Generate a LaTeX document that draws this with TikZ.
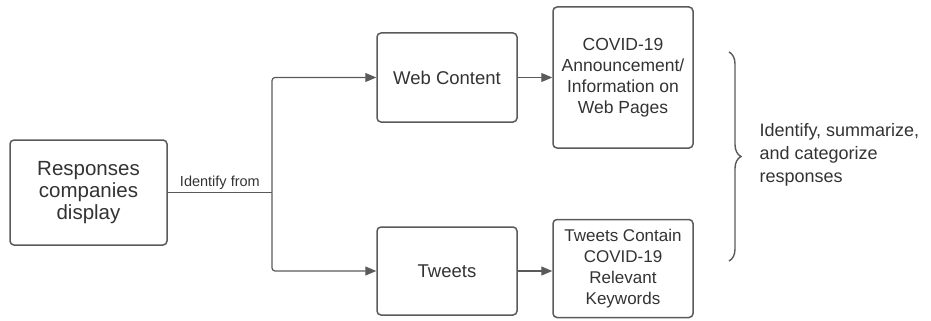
\documentclass[tikz,border=0pt]{standalone}
\usepackage{fontspec}
\setmainfont{Liberation Sans}
\usetikzlibrary{arrows.meta,decorations.pathreplacing}
\definecolor{edge}{HTML}{5A5A5A}
\definecolor{ink}{HTML}{333333}
\tikzset{
  box/.style={draw=edge, line width=1.5pt, rounded corners=4pt, fill=white,
    text=ink, align=center, inner sep=2pt},
  link/.style={draw=edge, line width=1.2pt, -{Triangle[length=11pt,width=9pt]}},
}
\begin{document}
\begin{tikzpicture}[x=1pt,y=-1pt]
  \useasboundingbox (0,0) rectangle (931,321);
  % boxes
  \node[box, minimum width=157pt, minimum height=105pt, font=\fontsize{20.5}{22}\selectfont]
    (resp) at (88.5,192.5) {Responses\\companies\\display};
  \node[box, minimum width=140pt, minimum height=89pt, font=\fontsize{18.5}{21}\selectfont]
    (web) at (447,77.5) {Web Content};
  \node[box, minimum width=140pt, minimum height=141pt, font=\fontsize{17.5}{21}\selectfont]
    (wpages) at (623,77.5) {COVID-19\\Announcement/\\Information on\\Web Pages};
  \node[box, minimum width=140pt, minimum height=88pt, font=\fontsize{18.5}{21}\selectfont]
    (tw) at (447,271) {Tweets};
  \node[box, minimum width=140pt, minimum height=98pt, font=\fontsize{17}{21}\selectfont]
    (kw) at (623,268.5) {Tweets Contain\\COVID-19\\Relevant\\Keywords};
  % branching connector
  \coordinate (split) at (272,192.5);
  \draw[draw=edge, line width=1.2pt] (resp.east) -- node[above=-1pt, text=ink,
    font=\fontsize{14.5}{16}\selectfont] {Identify from} (split);
  \draw[link, rounded corners=3pt] (split) |- (web.west);
  \draw[link, rounded corners=3pt] (split) |- (tw.west);
  \draw[link] (web.east) -- (wpages.west);
  \draw[link] (tw.east) -- (tw.east -| kw.west);
  % brace and summary text
  \coordinate (btop) at (729,52);
  \coordinate (bbot) at (729,261);
  \draw[draw=edge, line width=1.4pt, decoration={brace, amplitude=12pt}, decorate]
    (btop) -- (bbot);
  \node[anchor=west, align=left, text=ink, font=\fontsize{18}{23}\selectfont]
    (summary) at (756,155) {Identify, summarize,\\and categorize\\responses};
\end{tikzpicture}
\end{document}
